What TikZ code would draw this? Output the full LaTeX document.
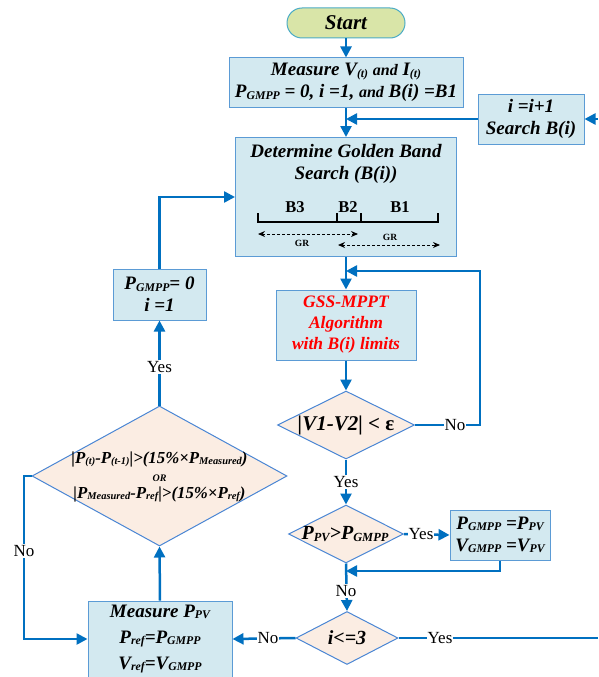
\documentclass[tikz,border=0pt]{standalone}
\usepackage{fontspec}
\setmainfont{Liberation Serif}
\usepackage{graphicx}
\usetikzlibrary{arrows.meta,shapes.geometric}
\definecolor{lnblue}{HTML}{0070C0}
\definecolor{bxfill}{HTML}{D3E9F0}
\definecolor{bxline}{HTML}{5B9BD5}
\definecolor{dmline}{HTML}{4A86D4}
\definecolor{dmfill}{HTML}{FBEDE3}
\definecolor{stfill}{HTML}{D9E5A8}
\definecolor{stline}{HTML}{4BACC6}
\definecolor{gssred}{HTML}{FF0000}
\newcommand{\sbs}[1]{\raisebox{-0.15ex}{\scalebox{0.62}{#1}}}
\newcommand{\bxfont}{\fontsize{19}{22}\selectfont\bfseries\itshape}
\begin{document}
\begin{tikzpicture}[x=1pt,y=-1pt,
  box/.style={draw=bxline, line width=1pt, fill=bxfill, inner sep=0pt, align=center, font=\bxfont},
  dmd/.style={diamond, draw=dmline, line width=1pt, fill=dmfill, inner sep=0pt},
  txt/.style={align=center, font=\bxfont, inner sep=0pt},
  lbl/.style={fill=white, inner sep=1pt, font=\fontsize{17}{17}\selectfont},
  ln/.style={draw=lnblue, line width=2.5pt},
  arr/.style={draw=lnblue, line width=2.5pt, -{Triangle[length=11pt,width=11pt]}},
  dsh/.style={draw=black, line width=1pt, dash pattern=on 3pt off 2pt, {Stealth[length=7pt,width=6pt]}-{Stealth[length=7pt,width=6pt]}}
]
\fill[white] (0,0) rectangle (598,677);
\useasboundingbox (0,0) rectangle (598,677);

% nodes
\node[draw=stline, line width=1pt, fill=stfill, rounded corners=15pt, minimum width=118pt, minimum height=30pt, inner sep=0pt,
      font=\fontsize{21}{21}\selectfont\bfseries\itshape] (start) at (346,23) {Start};
\node[box, minimum width=234pt, minimum height=49pt] (meas) at (346,82.5)
  {Measure V\sbs{(t)} {\fontsize{16}{16}\selectfont and} I\sbs{(t)}\\P\sbs{GMPP} = 0, i =1, {\fontsize{16}{16}\selectfont and} B(i) =B1};
\node[box, minimum width=106pt, minimum height=50pt] (inc) at (531,119) {i =i+1\\Search B(i)};
\node[box, minimum width=221pt, minimum height=119pt] (det) at (346,197) {};
\node[txt] (dett) at (346,164) {Determine Golden Band\\Search (B(i))};
\node[font=\fontsize{16.5}{16.5}\selectfont\bfseries, inner sep=0pt] (b3) at (295,207) {B3};
\node[font=\fontsize{16.5}{16.5}\selectfont\bfseries, inner sep=0pt] (b2) at (348,207) {B2};
\node[font=\fontsize{16.5}{16.5}\selectfont\bfseries, inner sep=0pt] (b1) at (400,207) {B1};
\draw[line width=1.5pt] (258,213) -- (258,222) -- (438,222) -- (438,213);
\draw[line width=1.5pt] (337,213) -- (337,222);
\draw[line width=1.5pt] (361,213) -- (361,222);
\draw[dsh] (258,234) -- (358,234);
\draw[dsh] (338,245) -- (440,245);
\node[font=\fontsize{9.5}{9.5}\selectfont\bfseries, inner sep=0pt] (gr1) at (302,243) {GR};
\node[font=\fontsize{9.5}{9.5}\selectfont\bfseries, inner sep=0pt] (gr2) at (390,237) {GR};

\node[box, minimum width=140pt, minimum height=70pt, text=gssred, font=\fontsize{17.5}{21}\selectfont\bfseries\itshape] (gss) at (346,325)
  {GSS-MPPT\\Algorithm\\with B(i) limits};
\node[dmd, minimum width=137pt, minimum height=68pt] (dV) at (346,425) {};
\node[txt, font=\fontsize{21}{21}\selectfont\bfseries\itshape] (dVt) at (346,425) {|V1-V2| {\upshape <} {\upshape ε}};
\node[dmd, minimum width=115pt, minimum height=58pt] (dP) at (346,534) {};
\node[txt, font=\fontsize{20}{20}\selectfont\bfseries\itshape] (dPt) at (345,534) {P\sbs{PV}>P\sbs{GMPP}};
\node[box, minimum width=100pt, minimum height=50pt] (gm) at (500,535) {P\sbs{GMPP} =P\sbs{PV}\\V\sbs{GMPP} =V\sbs{PV}};
\node[dmd, minimum width=102pt, minimum height=53pt] (di) at (347,638) {};
\node[txt, font=\fontsize{20}{20}\selectfont\bfseries\itshape] (dit) at (347,638) {i<=3};
\node[box, minimum width=144pt, minimum height=76pt, font=\fontsize{19}{26}\selectfont\bfseries\itshape] (mp) at (160,639)
  {Measure P\sbs{PV}\\P\sbs{ref}=P\sbs{GMPP}\\V\sbs{ref}=V\sbs{GMPP}};
\node[dmd, minimum width=255pt, minimum height=140pt] (bd) at (159.5,476) {};
\node[txt, font=\fontsize{16.8}{17.5}\selectfont\bfseries\itshape] (bdt) at (159.5,477)
  {|P\sbs{(t)}-P\sbs{(t-1)}|>(15\%×P\sbs{Measured})\\{\fontsize{10}{10}\selectfont OR}\\|P\sbs{Measured}-P\sbs{ref}|>(15\%×P\sbs{ref})};
\node[box, minimum width=93pt, minimum height=51pt] (pg0) at (159.5,294.5) {P\sbs{GMPP}= 0\\i =1};

% coordinates
\coordinate (rIn) at (598,119);
\coordinate (rOut) at (598,638);
\coordinate (cLoop) at (480,271);
\coordinate (cGm) at (500,571);
\coordinate (cLeft) at (24,476);
\coordinate (cUp) at (159.5,197);

% connectors
\draw[arr] (start.south) -- (meas.north);
\draw[arr] (meas.south) -- (meas.south |- det.north);
\draw[arr] (inc.west) -- (inc.west -| meas.south);
\draw[arr] (rIn) -- (inc.east);
\draw[arr] (det.south) -- (gss.north);
\draw[arr] (gss.south) -- (dV.north);
\draw[arr] (dV.east) -| (cLoop) -- (cLoop -| det.south);
\node[lbl] (lNo1) at (455,425) {No};
\draw[arr] (dV.south) -- (dP.north);
\node[lbl] (lYes1) at (346,482) {Yes};
\draw[arr] (dP.east) -- (gm.west);
\node[lbl] (lYes2) at (421,534) {Yes};
\draw[arr] (gm.south) -- (cGm) -- (cGm -| dP.south);
\draw[arr] (dP.south) -- (di.north);
\node[lbl] (lNo2) at (346,591) {No};
\draw[arr] (di.west) -- (mp.east);
\node[lbl] (lNo3) at (268,638) {No};
\draw[ln] (di.east) -- (rOut);
\node[lbl] (lYes3) at (440,638) {Yes};
\draw[arr] (bd.west) -- (cLeft) |- (mp.west);
\node[lbl] (lNo4) at (24,551) {No};
\draw[arr] (mp.north) -- (bd.south);
\draw[arr] (bd.north) -- (pg0.south);
\node[lbl] (lYes4) at (159.5,367) {Yes};
\draw[arr] (pg0.north) -- (cUp) -- (cUp -| det.west);
\end{tikzpicture}
\end{document}
